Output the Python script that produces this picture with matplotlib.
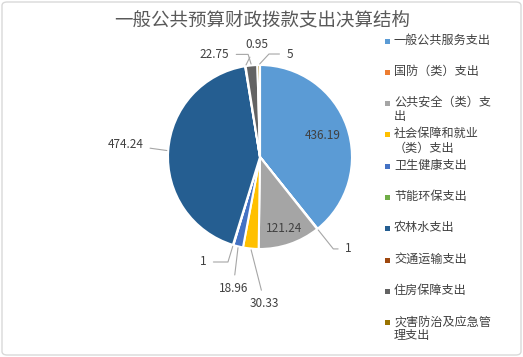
import numpy as np
import matplotlib
matplotlib.use("Agg")
import matplotlib.pyplot as plt
from matplotlib.patches import FancyBboxPatch, Rectangle

plt.rcParams['font.family'] = ['Noto Sans CJK SC', 'DejaVu Sans']

title = "一般公共预算财政拨款支出决算结构"
categories = ["一般公共服务支出", "国防（类）支出", "公共安全（类）支出", "社会保障和就业（类）支出",
              "卫生健康支出", "节能环保支出", "农林水支出", "交通运输支出", "住房保障支出",
              "灾害防治及应急管理支出"]
legend_labels = ["一般公共服务支出", "国防（类）支出", "公共安全（类）支\n出", "社会保障和就业\n（类）支出",
                 "卫生健康支出", "节能环保支出", "农林水支出", "交通运输支出", "住房保障支出",
                 "灾害防治及应急管\n理支出"]
values = [436.19, 1, 121.24, 30.33, 18.96, 1, 474.24, 0.95, 22.75, 5]
value_labels = ["436.19", "1", "121.24", "30.33", "18.96", "1", "474.24", "0.95", "22.75", "5"]
colors = ["#5B9BD5", "#ED7D31", "#A5A5A5", "#FFC000", "#4472C4", "#70AD47",
          "#255E91", "#9E480E", "#636363", "#997300"]

W, H = 523, 357
fig = plt.figure(figsize=(W / 100, H / 100), dpi=100)
fig.patch.set_facecolor("white")
fig.patches.append(FancyBboxPatch((2 / W, 2 / H), 1 - 4 / W, 1 - 4 / H,
                                  boxstyle="round,pad=0,rounding_size=0.01",
                                  transform=fig.transFigure, fill=False,
                                  edgecolor="#d9d9d9", linewidth=1))

cx, cy, R = 260, 157, 92
ax = fig.add_axes([(cx - R) / W, (H - cy - R) / H, 2 * R / W, 2 * R / H])
wedges, _ = ax.pie(values, colors=colors, startangle=90, counterclock=False, radius=1,
                   wedgeprops=dict(edgecolor="white", linewidth=1.5))
ax.set_xlim(-1, 1)
ax.set_ylim(-1, 1)
ax.set_aspect("equal")
ax.axis("off")

txt_color = "#404040"
line_color = "#a6a6a6"
fs = 8.5
# inside labels (radial factor) or outside labels (pixel offsets from edge)
inside = {0: 0.72, 2: 0.82}
offsets = {1: (31, -20), 3: (14, -55), 4: (-5, -42), 5: (-30, -17),
           6: (-43, 6), 7: (11, 22), 8: (-37, 11), 9: (31, 11)}
# leader style: None = straight, number = angle of the slanted segment (horizontal at text)
leader_angle = {1: "radial", 5: "radial", 8: 107, 9: 47}
for i, w in enumerate(wedges):
    mid_deg = (w.theta1 + w.theta2) / 2
    mid = np.deg2rad(mid_deg)
    ux, uy = np.cos(mid), np.sin(mid)
    if i in inside:
        r = inside[i]
        ax.text(r * ux, r * uy, value_labels[i], ha="center", va="center",
                fontsize=fs, color=txt_color)
    else:
        la = leader_angle.get(i)
        if la is None:
            cs = "arc3,rad=0"
        else:
            b = mid_deg if la == "radial" else la
            cs = f"angle,angleA=0,angleB={b},rad=0"
        ax.annotate(value_labels[i], xy=(ux, uy), xytext=offsets[i],
                    textcoords="offset pixels", ha="center", va="center",
                    fontsize=fs, color=txt_color, annotation_clip=False,
                    arrowprops=dict(arrowstyle="-", color=line_color, lw=0.8,
                                    shrinkA=3, shrinkB=1, connectionstyle=cs))

fig.text(262 / W, 1 - 21 / H, title, ha="center", va="center",
         fontsize=13.3, color="#595959")

# legend
y0, step = 41, 31.3
for i, lab in enumerate(legend_labels):
    y = y0 + i * step
    fig.patches.append(Rectangle(((385) / W, 1 - (y + 2.5) / H), 5 / W, 5 / H,
                                 transform=fig.transFigure, facecolor=colors[i],
                                 edgecolor="none"))
    fig.text(394 / W, 1 - (y - 7.5) / H, lab, ha="left", va="top", fontsize=8.7,
             color=txt_color, linespacing=1.12)

fig.savefig("out.png", dpi=100, facecolor="white")
